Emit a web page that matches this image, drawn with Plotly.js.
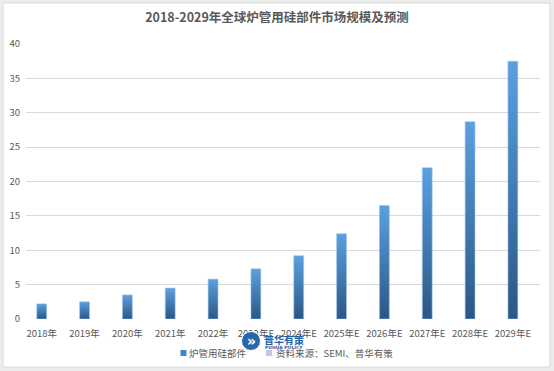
<!DOCTYPE html>
<html><head><meta charset="utf-8">
<script src="https://cdn.plot.ly/plotly-3.0.1.min.js"></script>
<style>body{margin:0;background:#fff}#chart{width:554px;height:371px}</style>
</head><body><div id="chart"></div>
<script>
const categories = ['2018年','2019年','2020年','2021年','2022年','2023年E','2024年E','2025年E','2026年E','2027年E','2028年E','2029年E'];
const values = [2.2, 2.5, 3.5, 4.5, 5.8, 7.3, 9.2, 12.4, 16.5, 22.0, 28.7, 37.5];
const seriesName = '炉管用硅部件';
const sourceName = '资料来源：SEMI、普华有策';
const titleText = '2018-2029年全球炉管用硅部件市场规模及预测';
const yTicks = [0,5,10,15,20,25,30,35,40];

const L=26, R=14, T=44, B=52, W=554-L-R, H=371-T-B;
const px = x => (x-L)/W, py = y => (371-B-y)/H;
const font = {family:'"Noto Sans CJK SC", "Noto Sans", sans-serif', color:'#595959'};

const traces = [
  {type:'bar', x:categories, y:values, name:seriesName, showlegend:false,
   marker:{color:'#3f7fc1', line:{color:'#9cc3ea', width:0.6}}, width:0.23, hoverinfo:'x+y'},
  {type:'scatter', mode:'markers', x:[null], y:[null], name:seriesName,
   marker:{symbol:'square', size:6, color:'#3f84cc'}},
  {type:'scatter', mode:'markers', x:[null], y:[null], name:sourceName,
   marker:{symbol:'square', size:6, color:'#c9c3e6'}}
];

const layout = {
  width:554, height:371,
  margin:{l:L, r:R, t:T, b:B, autoexpand:false},
  paper_bgcolor:'#ececec', plot_bgcolor:'rgba(0,0,0,0)',
  font:Object.assign({size:9.5}, font),
  title:{text:'<b>'+titleText+'</b>', x:0.5, xanchor:'center', y:1-18/371, yanchor:'middle',
    font:Object.assign({}, font, {size:12.5, color:'#595959'})},
  xaxis:{type:'category', range:[-0.367, 11.633], showgrid:false, showline:false, zeroline:false,
    ticks:'', ticklabelstandoff:7, tickfont:Object.assign({}, font, {size:9.5}), fixedrange:true, automargin:false},
  yaxis:{range:[0,40], tickvals:yTicks, showgrid:true, gridcolor:'#d9d9d9', gridwidth:1,
    zeroline:false, showline:false, ticks:'', ticklabelstandoff:5, automargin:false,
    tickfont:Object.assign({}, font, {size:9.5}), fixedrange:true},
  showlegend:true,
  legend:{orientation:'h', x:0.5, xanchor:'center', y:py(353), yanchor:'middle',
    font:Object.assign({}, font, {size:9.5}), bgcolor:'rgba(0,0,0,0)'},
  bargap:0.77,
  shapes:[
    {type:'rect', xref:'paper', yref:'paper', x0:px(3), x1:px(550), y0:py(367), y1:py(3),
     fillcolor:'#ffffff', line:{color:'#d9d9d9', width:1}, layer:'below'},
    {type:'circle', xref:'paper', yref:'paper', x0:px(241.5), x1:px(260.5), y0:py(350.5), y1:py(331.5),
     fillcolor:'#1f5fa6', line:{color:'#ffffff', width:1}, layer:'above', opacity:0.95}
  ],
  annotations:[
    {xref:'paper', yref:'paper', x:px(251), y:py(341), xanchor:'center', yanchor:'middle', text:'<b>»</b>', showarrow:false,
     font:{family:'DejaVu Sans', size:14, color:'#ffffff'}},
    {xref:'paper', yref:'paper', x:px(262), y:py(339), xanchor:'left', yanchor:'middle', text:'<b>普华有策</b>', showarrow:false,
     font:{family:'"Noto Sans CJK SC"', size:10, color:'#1f5fa6'}},
    {xref:'paper', yref:'paper', x:px(263), y:py(347.5), xanchor:'left', yanchor:'middle', text:'<b>PUHUA POLICY</b>', showarrow:false,
     font:{family:'DejaVu Sans', size:4.5, color:'#1f5fa6'}}
  ]
};

function parseT(el){
  const m = /translate\(\s*([-\d.e]+)[ ,]+([-\d.e]+)\s*\)/.exec(el.getAttribute('transform')||'');
  return m ? [parseFloat(m[1]), parseFloat(m[2])] : [0,0];
}

Plotly.newPlot('chart', traces, layout, {displayModeBar:false, staticPlot:true}).then(gd => {
  const svg = gd.querySelector('svg.main-svg');
  const ns = 'http://www.w3.org/2000/svg';
  let defs = svg.querySelector('defs');
  if (!defs) { defs = document.createElementNS(ns,'defs'); svg.insertBefore(defs, svg.firstChild); }
  const g = document.createElementNS(ns,'linearGradient');
  g.setAttribute('id','barGrad'); g.setAttribute('x1','0'); g.setAttribute('y1','0');
  g.setAttribute('x2','0'); g.setAttribute('y2','1');
  [['0','#5aa0e0'],['1','#2b5784']].forEach(([o,c]) => {
    const s = document.createElementNS(ns,'stop'); s.setAttribute('offset',o); s.setAttribute('stop-color',c); g.appendChild(s);
  });
  defs.appendChild(g);
  gd.querySelectorAll('.barlayer .point path').forEach(p => { p.style.fill = 'url(#barGrad)'; });

  // tighten legend: text starts and symbol centers as in the reference
  const svgLeft = svg.getBoundingClientRect().left;
  const targets = [[183.5, 189], [269, 276]];
  gd.querySelectorAll('.legend .traces').forEach((tr, i) => {
    if (!targets[i]) return;
    const txt = tr.querySelector('.legendtext');
    const dx = targets[i][1] - (txt.getBoundingClientRect().left - svgLeft);
    const [x0, y0] = parseT(tr);
    tr.setAttribute('transform', `translate(${x0+dx},${y0})`);
    const pts = tr.querySelector('.legendpoints');
    if (pts) {
      const r = pts.getBoundingClientRect();
      const c = (r.left + r.right)/2 - svgLeft;
      pts.setAttribute('transform', `translate(${targets[i][0]-c},0)`);
    }
  });
});
</script></body></html>
